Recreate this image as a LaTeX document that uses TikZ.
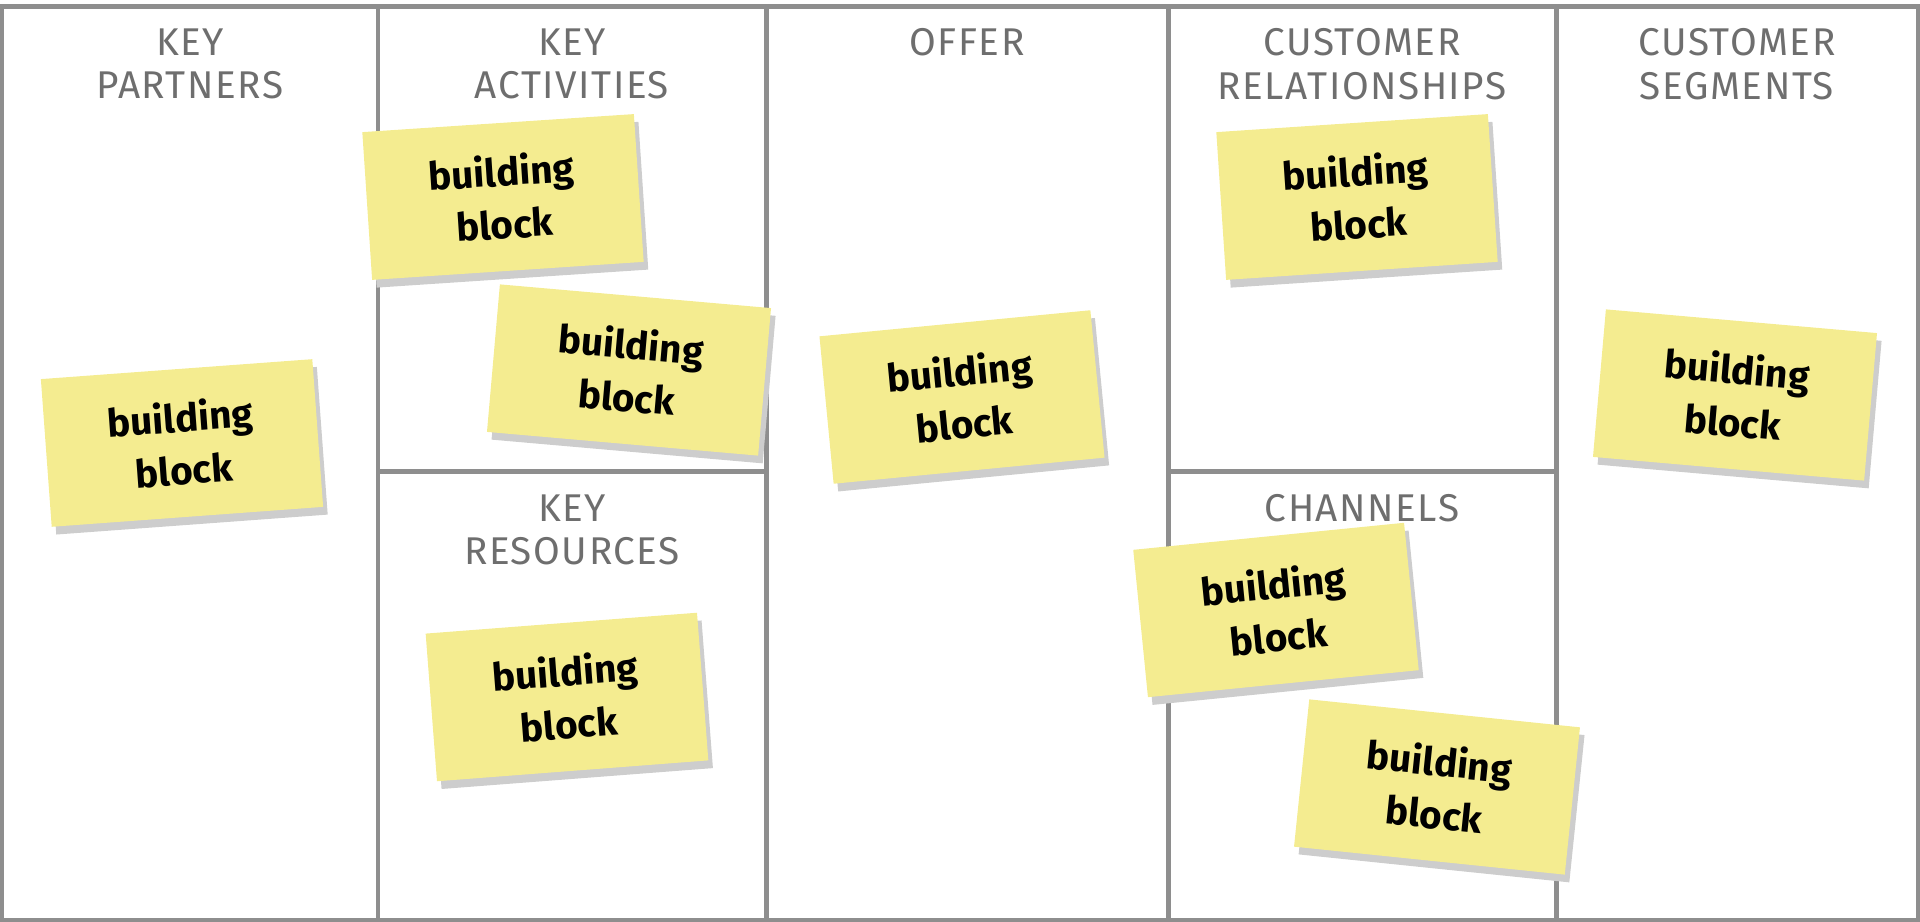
\documentclass[tikz,border=0pt]{standalone}
\usepackage{fontspec}
\usetikzlibrary{shadows}
\newfontfamily\headfont[LetterSpace=4]{Fira Sans}
\newfontfamily\notefont{Fira Sans}
\definecolor{gridgray}{RGB}{142,142,142}
\definecolor{headgray}{RGB}{110,110,110}
\definecolor{noteyellow}{RGB}{244,236,144}
\definecolor{notegray}{RGB}{205,205,205}
\begin{document}
\begin{tikzpicture}[x=0.01cm, y=-0.01cm,
  grid/.style={draw=gridgray, line width=1.42pt},
  head/.style={text=headgray, font=\headfont\fontsize{11}{12.3}\selectfont, align=center, anchor=north, inner sep=0pt},
  sticky/.style={fill=noteyellow, minimum width=2.72cm, minimum height=1.48cm, inner sep=0pt, align=center,
    font=\notefont\bfseries\fontsize{11}{15}\selectfont,
    drop shadow={shadow xshift=1.3pt, shadow yshift=-2.2pt, fill=notegray, opacity=1}}]
\useasboundingbox (0,0) rectangle (1920,922);
\draw[grid] (1.5,6.5) rectangle (1918.5,920.5);
\draw[grid] (378,6.5) -- (378,920.5);
\draw[grid] (766,6.5) -- (766,920.5);
\draw[grid] (1168,6.5) -- (1168,920.5);
\draw[grid] (1556,6.5) -- (1556,920.5);
\draw[grid] (378,472) -- (766,472);
\draw[grid] (1168,472) -- (1556,472);
\node[head] (KPH) at (190,28) {KEY\\PARTNERS};
\node[head] (KAH) at (572,28) {KEY\\ACTIVITIES};
\node[head] (KRH) at (572,494) {KEY\\RESOURCES};
\node[head] (OFH) at (967,28) {OFFER};
\node[head] (CRH) at (1362,28) {CUSTOMER\\RELATIONSHIPS};
\node[head] (CHH) at (1362,494) {CHANNELS};
\node[head] (CSH) at (1737,28) {CUSTOMER\\SEGMENTS};
\node[sticky, rotate=4.2] (KPN1) at (182,443) {building\\block};
\node[sticky, rotate=3.8] (KAN1) at (503,197) {building\\block};
\node[sticky, rotate=-5] (KAN2) at (629,370) {building\\block};
\node[sticky, rotate=4.4] (KRN1) at (567,697) {building\\block};
\node[sticky, rotate=5.5] (OFN1) at (962,397) {building\\block};
\node[sticky, rotate=3.8] (CRN1) at (1357,197) {building\\block};
\node[sticky, rotate=5.7] (CHN1) at (1276,610) {building\\block};
\node[sticky, rotate=-5.9] (CHN2) at (1437,787) {building\\block};
\node[sticky, rotate=-5] (CSN1) at (1735,395) {building\\block};
\end{tikzpicture}
\end{document}
